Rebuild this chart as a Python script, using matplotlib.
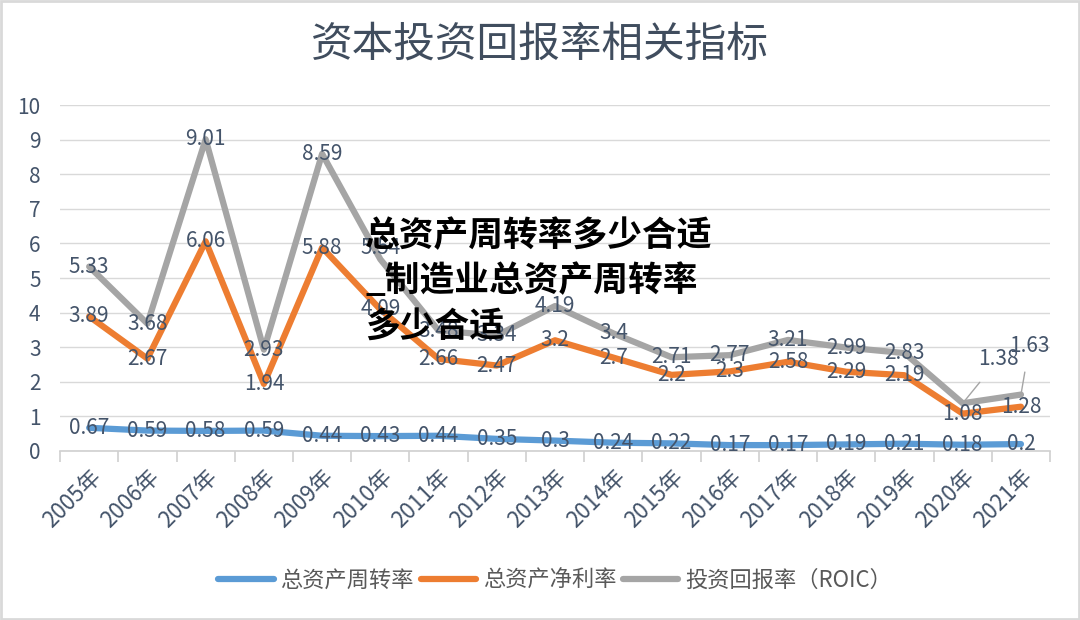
import matplotlib
matplotlib.use("Agg")
import matplotlib.pyplot as plt
from matplotlib.patches import Rectangle

plt.rcParams['font.family'] = ['Noto Sans CJK SC', 'DejaVu Sans']

years = ['2005年', '2006年', '2007年', '2008年', '2009年', '2010年', '2011年', '2012年', '2013年',
         '2014年', '2015年', '2016年', '2017年', '2018年', '2019年', '2020年', '2021年']
turnover = [0.67, 0.59, 0.58, 0.59, 0.44, 0.43, 0.44, 0.35, 0.3, 0.24, 0.22, 0.17, 0.17, 0.19, 0.21, 0.18, 0.2]
net_margin = [3.89, 2.67, 6.06, 1.94, 5.88, 4.09, 2.66, 2.47, 3.2, 2.7, 2.2, 2.3, 2.58, 2.29, 2.19, 1.08, 1.28]
roic = [5.33, 3.68, 9.01, 2.93, 8.59, 5.54, 3.48, 3.34, 4.19, 3.4, 2.71, 2.77, 3.21, 2.99, 2.83, 1.38, 1.63]
names = ['总资产周转率', '总资产净利率', '投资回报率（ROIC）']
colors = ['#5b9bd5', '#ed7d31', '#a5a5a5']
txt = '#44546a'

fig = plt.figure(figsize=(10.8, 6.2), dpi=100)
fig.patches.append(Rectangle((0.001, 0.001), 0.998, 0.997, transform=fig.transFigure,
                             fill=False, edgecolor='#d9d9d9', lw=2))
ax = fig.add_axes([0.0556, 0.2726, 0.9167, 0.558])

x = list(range(len(years)))
for s, c, n in zip([turnover, net_margin, roic], colors, names):
    ax.plot(x, s, color=c, lw=4.5, solid_capstyle='round', solid_joinstyle='round', label=n, zorder=3)

# data labels, centred on the points like the original
for s in [turnover, net_margin, roic]:
    for i, v in enumerate(s):
        if s is roic and i >= 15:
            continue
        dy = 8 if (s is roic and i == 5) else 0
        ax.annotate(f'{v:g}', (i, v), xytext=(0, dy), textcoords='offset points',
                    ha='center', va='center', fontsize=15, color=txt, zorder=4)
# last two roic labels with leader lines
for i, off in [(15, (26, 32)), (16, (6, 35))]:
    ax.annotate(f'{roic[i]:g}', (i, roic[i]), xytext=off, textcoords='offset points',
                ha='center', va='center', fontsize=15, color=txt, zorder=4,
                arrowprops=dict(arrowstyle='-', color='#a5a5a5', lw=1, shrinkA=9, shrinkB=2))

ax.set_xlim(-0.5, len(years) - 0.5)
ax.set_ylim(0, 10)
ax.set_yticks(range(0, 11))
ax.grid(axis='y', color='#d9d9d9', lw=1)
ax.set_axisbelow(True)
for sp in ['top', 'right', 'left']:
    ax.spines[sp].set_visible(False)
ax.spines['bottom'].set_color('#d0d0d0')
ax.spines['bottom'].set_linewidth(1.2)
ax.set_xticks(x)
ax.set_xticklabels(years, rotation=45, ha='right', rotation_mode='anchor', fontsize=16, color=txt)
ax.set_xticks([i - 0.5 for i in range(len(years) + 1)], minor=True)
ax.tick_params(axis='x', which='major', length=0, pad=10)
ax.tick_params(axis='x', which='minor', length=8, color='#d0d0d0', width=1.2)
ax.tick_params(axis='y', length=0, labelsize=15, labelcolor=txt, pad=14)

fig.text(0.5, 0.928, '资本投资回报率相关指标', ha='center', va='center', fontsize=30,
         fontweight='medium', color='#404d5e')

ax.legend(loc='center', bbox_to_anchor=(0.5, -0.373), ncol=3, frameon=False, fontsize=16,
          handlelength=2.5, columnspacing=0.3, handletextpad=0.3, labelcolor='#595959')

# watermark overlay text
for k, line in enumerate(['总资产周转率多少合适', '_制造业总资产周转率', '多少合适']):
    fig.text(0.338, 1 - (236 + 45 * k) / 620, line, ha='left', va='center', fontsize=25,
             fontweight='bold', color='black', zorder=10)

fig.savefig('out.png', dpi=100)
